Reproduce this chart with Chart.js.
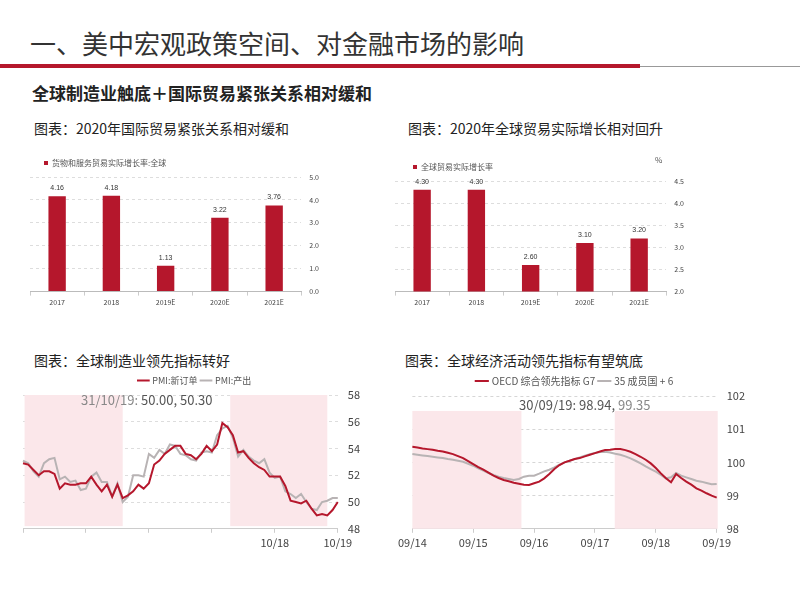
<!DOCTYPE html>
<html><head><meta charset="utf-8">
<script src="https://cdn.jsdelivr.net/npm/chart.js@4"></script>
<style>
body{margin:0;width:800px;height:600px;background:#fff;font-family:"Noto Sans CJK SC","Noto Sans",sans-serif;position:relative;overflow:hidden}
.t{position:absolute;white-space:nowrap;color:#222}
.box{position:absolute}
</style></head><body>
<div class="t" style="left:30px;top:24px;font-size:26px;color:#333">一、美中宏观政策空间、对金融市场的影响</div>
<div style="position:absolute;left:0;top:64px;width:640px;height:4px;background:#b5172c"></div>
<div style="position:absolute;left:640px;top:66px;width:160px;height:1px;background:#999"></div>
<div class="t" style="left:32px;top:80px;font-size:17px;font-weight:bold">全球制造业触底＋国际贸易紧张关系相对缓和</div>
<div class="t" style="left:34px;top:118px;font-size:14px">图表：2020年国际贸易紧张关系相对缓和</div>
<div class="t" style="left:408px;top:118px;font-size:14px">图表：2020年全球贸易实际增长相对回升</div>
<div class="t" style="left:34px;top:350px;font-size:14px">图表：全球制造业领先指标转好</div>
<div class="t" style="left:405px;top:350px;font-size:14px">图表：全球经济活动领先指标有望筑底</div>
<div class="box" style="left:30px;top:145px;width:305px;height:165px"><canvas id="c1"></canvas></div>
<div class="box" style="left:395px;top:145px;width:305px;height:165px"><canvas id="c2"></canvas></div>
<div class="box" style="left:20px;top:372px;width:350px;height:180px"><canvas id="c3"></canvas></div>
<div class="box" style="left:395px;top:372px;width:360px;height:180px"><canvas id="c4"></canvas></div>
<div class="t" style="left:655px;top:154px;font-size:8px;color:#555">%</div>
<div class="t" style="left:81px;top:390px;font-size:13px;color:#888">31/10/19: <span style="color:#555">50.00, 50.30</span></div>
<div class="t" style="left:519px;top:395px;font-size:13px;color:#555">30/09/19: 98.94, <span style="color:#888">99.35</span></div>
<script>
const RED = "#b5172c";
const GRAY = "#b8b3b4";
const barYears = ["2017", "2018", "2019E", "2020E", "2021E"];
const tradeGrowthImf = [4.16, 4.18, 1.13, 3.22, 3.76];
const tradeGrowthWto = [4.30, 4.30, 2.60, 3.10, 3.20];

const pmiLabels = [];
for (let i = 0; i <= 60; i++) {
  const m = ((9 + i) % 12) + 1, y = 14 + Math.floor((9 + i) / 12);
  pmiLabels.push(String(m).padStart(2, "0") + "/" + y);
}
const pmiNewOrders = [52.9,52.8,52.4,52.0,52.3,52.3,52.1,51.0,51.4,51.3,51.3,51.4,51.4,51.9,51.3,50.8,51.3,50.4,51.3,50.3,
  50.5,50.8,51.3,51.0,51.4,52.8,53.1,53.6,53.9,54.2,54.2,53.6,53.5,53.2,53.6,54.2,53.8,54.3,55.9,
  55.6,55.0,53.7,53.8,53.3,52.9,52.6,52.4,51.9,51.9,51.9,51.2,50.1,50.0,49.9,50.1,49.5,49.0,49.1,49.0,49.4,50.0];
const pmiOutput = [53.1,52.9,52.3,51.9,52.9,53.2,53.3,51.7,51.9,51.5,51.6,50.9,51.0,51.9,52.2,51.5,51.5,50.4,51.4,50.0,
  50.4,52.0,52.0,51.9,53.6,53.3,53.9,53.6,54.3,54.2,53.6,53.5,53.2,53.1,53.7,53.8,53.7,55.0,55.5,
  55.7,54.8,53.4,53.9,53.4,53.1,52.9,53.2,52.2,51.8,51.9,50.8,50.6,50.3,50.6,50.0,49.5,49.4,50.0,50.1,50.3,50.3];
const pmiBands = [[0.3, 19], [39.5, 58]];

const oecdLabels = [];
for (let i = 0; i <= 60; i++) {
  const m = ((8 + i) % 12) + 1, y = 14 + Math.floor((8 + i) / 12);
  oecdLabels.push(String(m).padStart(2, "0") + "/" + y);
}
const oecdG7 = [100.47,100.45,100.42,100.40,100.38,100.35,100.33,100.29,100.25,100.19,100.13,100.04,99.95,99.86,99.78,99.69,99.60,99.53,99.47,99.43,
  99.39,99.36,99.33,99.32,99.37,99.42,99.52,99.65,99.80,99.92,100.00,100.05,100.10,100.13,100.18,100.23,100.28,100.33,100.37,100.38,
  100.40,100.40,100.37,100.32,100.25,100.17,100.08,99.97,99.83,99.67,99.52,99.40,99.65,99.53,99.42,99.33,99.22,99.15,99.07,99.00,98.94];
const oecdAll = [100.25,100.23,100.21,100.19,100.17,100.15,100.13,100.10,100.08,100.05,100.02,99.96,99.90,99.82,99.75,99.68,99.62,99.57,99.53,99.50,
  99.47,99.50,99.57,99.60,99.60,99.66,99.73,99.78,99.85,99.93,100.00,100.05,100.10,100.15,100.20,100.25,100.28,100.31,100.32,100.30,
  100.26,100.23,100.18,100.12,100.05,99.97,99.88,99.80,99.72,99.62,99.52,99.55,99.68,99.60,99.55,99.50,99.45,99.42,99.38,99.34,99.35];
const oecdBands = [[0, 21.5], [39.9, 60.2]];

Chart.defaults.font.family = '"Noto Sans CJK SC","Noto Sans",sans-serif';
Chart.defaults.color = "#444";

const valueLabels = {
  id: "valueLabels",
  afterDatasetsDraw(chart) {
    const ctx = chart.ctx;
    const meta = chart.getDatasetMeta(0);
    ctx.save();
    ctx.font = "7px sans-serif";
    ctx.fillStyle = "#333";
    ctx.textAlign = "center";
    meta.data.forEach((bar, i) => {
      ctx.fillText(chart.data.datasets[0].data[i].toFixed(2), bar.x, bar.y - 8);
    });
    ctx.restore();
  }
};

const bands = {
  id: "bands",
  beforeDatasetsDraw(chart, args, opts) {
    const { ctx, scales } = chart;
    ctx.save();
    ctx.fillStyle = "#fbe7ea";
    opts.ranges.forEach(([a, b]) => {
      const x0 = scales.x.getPixelForValue(a), x1 = scales.x.getPixelForValue(b);
      const y0 = scales.y.getPixelForValue(opts.top), y1 = scales.y.getPixelForValue(opts.bottom);
      ctx.fillRect(x0, y0, x1 - x0, y1 - y0);
    });
    ctx.restore();
  }
};

function barChart(id, data, label, min, max, step, padTop) {
  return new Chart(document.getElementById(id), {
    type: "bar",
    data: { labels: barYears, datasets: [{ label, data, backgroundColor: RED, barPercentage: 0.32, categoryPercentage: 1 }] },
    options: {
      responsive: true, maintainAspectRatio: false, animation: false,
      layout: { padding: { top: 0, right: 8, left: 0, bottom: 0 } },
      plugins: {
        legend: { position: "top", align: "start", labels: { boxWidth: 4, boxHeight: 4, font: { size: 8 }, color: "#555", padding: padTop } },
        tooltip: { enabled: false }
      },
      scales: {
        x: { grid: { display: true, drawOnChartArea: false, color: "#ccc", tickLength: 4 }, border: { color: "#bbb" }, ticks: { font: { size: 7 }, color: "#444" } },
        y: { position: "right", min, max, ticks: { stepSize: step, font: { size: 7 }, color: "#444", padding: 8, callback: v => v.toFixed(1) },
             grid: { color: "#ddd", drawTicks: false }, border: { display: false, dash: [3, 3] } }
      }
    },
    plugins: [valueLabels]
  });
}
barChart("c1", tradeGrowthImf, "货物和服务贸易实际增长率:全球", 0, 5, 1, 14);
barChart("c2", tradeGrowthWto, "全球贸易实际增长率", 2, 4.5, 0.5, 18);

function lineChart(id, labels, s1, n1, s2, n2, min, max, step, bandOpts, tickFn, gridColor, legendSize) {
  return new Chart(document.getElementById(id), {
    type: "line",
    data: { labels, datasets: [
      { label: n1, data: s1, borderColor: RED, borderWidth: 2, pointRadius: 0, tension: 0, order: 1 },
      { label: n2, data: s2, borderColor: GRAY, borderWidth: 2, pointRadius: 0, tension: 0, order: 2 }
    ] },
    options: {
      responsive: true, maintainAspectRatio: false, animation: false,
      plugins: {
        legend: { position: "top", labels: { usePointStyle: true, pointStyle: "line", boxWidth: 28, font: { size: legendSize }, color: "#555", padding: 4 } },
        tooltip: { enabled: false },
        bands: bandOpts
      },
      scales: {
        x: { grid: { display: true, drawOnChartArea: false, color: "#ccc", tickLength: 4 }, border: { color: "#ccc" },
             ticks: { autoSkip: false, maxRotation: 0, font: { size: 11 }, color: "#444", callback: tickFn } },
        y: { position: "right", min, max, ticks: { stepSize: step, font: { size: 11 }, color: "#444", padding: 10 },
             grid: { color: gridColor, drawTicks: false }, border: { display: false, dash: [3, 3] } }
      }
    },
    plugins: [bands]
  });
}
lineChart("c3", pmiLabels, pmiNewOrders, "PMI:新订单", pmiOutput, "PMI:产出", 48, 58, 2,
  { ranges: pmiBands, top: 58, bottom: 48.2 },
  (v, i) => (i === 48 || i === 60) ? pmiLabels[i] : (i % 12 === 0 ? "" : null), "#ddd", 9);
lineChart("c4", oecdLabels, oecdG7, "OECD 综合领先指标 G7", oecdAll, "35 成员国 + 6", 98, 102, 1,
  { ranges: oecdBands, top: 101.55, bottom: 98 },
  (v, i) => i % 12 === 0 ? oecdLabels[i] : null, "#d6d6d6", 10);
</script>
</body></html>
